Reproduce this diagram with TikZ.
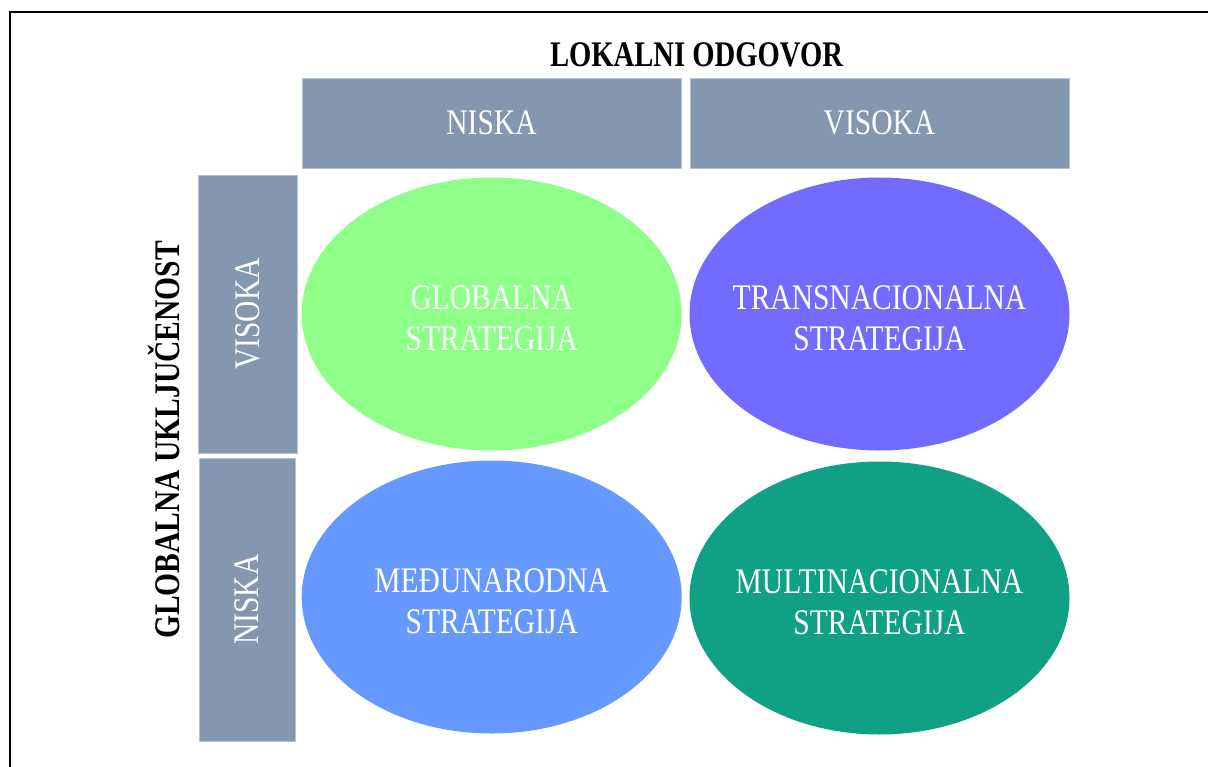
\documentclass[tikz,border=0pt]{standalone}
\usepackage{fontspec}
\setmainfont{Liberation Serif}[FakeStretch=0.82]
\usepackage{xcolor}
\usetikzlibrary{shapes.geometric, positioning}

\definecolor{boxgray}{HTML}{8497B0}
\definecolor{stratgreen}{HTML}{8FFF8A}
\definecolor{stratviolet}{HTML}{736AFF}
\definecolor{stratblue}{HTML}{6699FF}
\definecolor{stratteal}{HTML}{10A084}

% two-line label that does not widen the ellipse
\newcommand{\twolines}[2]{\raisebox{-14bp}[0pt][0pt]{\makebox[0pt]{\begin{tabular}{@{}c@{}}#1\\#2\end{tabular}}}}

\begin{document}
\begin{tikzpicture}[x=1bp, y=-1bp,
        hbox/.style={rectangle, fill=boxgray, draw=boxgray!60!white, line width=0.6bp,
            minimum width=379bp, minimum height=90bp, inner sep=0pt, text=white,
            font=\fontsize{36bp}{41bp}\selectfont},
        vbox/.style={hbox, rotate=90, minimum height=97bp},
        strat/.style={ellipse, minimum width=380bp, minimum height=273bp, inner sep=0pt,
            text=white, font=\fontsize{36bp}{41bp}\selectfont},
        title/.style={font=\fontsize{36bp}{41bp}\selectfont\bfseries, inner sep=0pt}]
        \useasboundingbox (0,0) rectangle (1208,767);
        % open frame
        \draw[line width=2bp] (10,767) -- (10,12) -- (1208,12);

        \node[title, xscale=0.97] (lok) at (696.5,55) {LOKALNI ODGOVOR};
        \node[title, rotate=90] (glob) at (164,440) {GLOBALNA UKLJUČENOST};

        \node[hbox] (ln) at (491.5,123) {NISKA};
        \node[hbox] (lv) at (879.5,123) {VISOKA};
        \node[vbox, minimum width=278bp, minimum height=99bp] (gv) at (247.5,314) {VISOKA};
        \node[vbox, minimum width=283bp, minimum height=96bp] (gn) at (247,599.5) {NISKA};

        \node[strat, fill=stratgreen] (s1) at (491.7,314) {\twolines{GLOBALNA}{STRATEGIJA}};
        \node[strat, fill=stratviolet] (s2) at (879.5,314) {\twolines{TRANSNACIONALNA}{STRATEGIJA}};
        \node[strat, fill=stratblue] (s3) at (491.7,597) {\twolines{MEĐUNARODNA}{STRATEGIJA}};
        \node[strat, fill=stratteal] (s4) at (879.5,598) {\twolines{MULTINACIONALNA}{STRATEGIJA}};
\end{tikzpicture}
\end{document}
